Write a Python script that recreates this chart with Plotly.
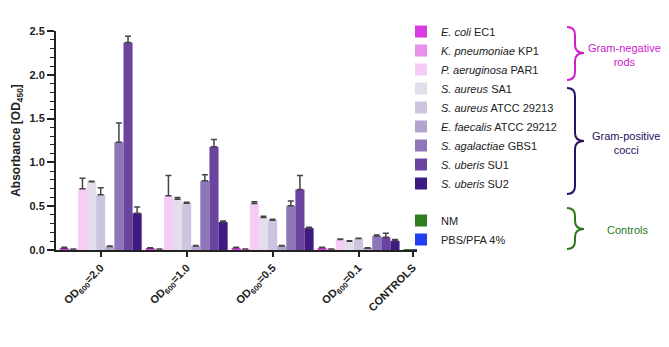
import plotly.graph_objects as go

# ---------------- data ----------------
groups = ["OD<sub>600</sub>=2.0", "OD<sub>600</sub>=1.0", "OD<sub>600</sub>=0.5", "OD<sub>600</sub>=0.1", "CONTROLS"]

strains = ["<i>E. coli</i> EC1", "<i>K. pneumoniae</i> KP1", "<i>P. aeruginosa</i> PAR1",
           "<i>S. aureus</i> SA1", "<i>S. aureus</i> ATCC 29213", "<i>E. faecalis</i> ATCC 29212",
           "<i>S. agalactiae</i> GBS1", "<i>S. uberis</i> SU1", "<i>S. uberis</i> SU2"]

# mean absorbance per strain for OD 2.0, 1.0, 0.5, 0.1
ecoli_mean = [0.02, 0.02, 0.025, 0.025]
kp_mean = [0.01, 0.01, 0.01, 0.01]
par_mean = [0.70, 0.62, 0.53, 0.12]
sa1_mean = [0.78, 0.58, 0.37, 0.10]
saatcc_mean = [0.63, 0.535, 0.34, 0.13]
ef_mean = [0.04, 0.045, 0.045, 0.02]
gbs_mean = [1.23, 0.79, 0.505, 0.16]
su1_mean = [2.37, 1.18, 0.69, 0.145]
su2_mean = [0.42, 0.32, 0.25, 0.105]

ecoli_sd = [0.01, 0.005, 0.005, 0.005]
kp_sd = [0.002, 0.002, 0.002, 0.002]
par_sd = [0.12, 0.23, 0.02, 0.005]
sa1_sd = [0.005, 0.02, 0.015, 0.005]
saatcc_sd = [0.08, 0.01, 0.01, 0.005]
ef_sd = [0.005, 0.005, 0.005, 0.005]
gbs_sd = [0.22, 0.07, 0.055, 0.01]
su1_sd = [0.07, 0.08, 0.16, 0.045]
su2_sd = [0.07, 0.01, 0.01, 0.015]

controls = ["NM", "PBS/PFA 4%"]
controls_mean = [0.004, 0.002]
controls_sd = [0.0, 0.0]

means = [ecoli_mean, kp_mean, par_mean, sa1_mean, saatcc_mean, ef_mean, gbs_mean, su1_mean, su2_mean]
sds = [ecoli_sd, kp_sd, par_sd, sa1_sd, saatcc_sd, ef_sd, gbs_sd, su1_sd, su2_sd]

# ---------------- style ----------------
colors = ["#d63ce0", "#e890ea", "#f6ccf6", "#e3ddec", "#cdc4de", "#b3a4cf",
          "#8f76b8", "#6a449e", "#3f1a80"]
control_colors = ["#2e7d1e", "#1f3ff0"]
group_pos = [0, 1, 2, 3, 3.63]
bw = 0.106
FONT = "Liberation Sans, Arial, sans-serif"

fig = go.Figure()
for i, (name, m, s) in enumerate(zip(strains, means, sds)):
    fig.add_trace(go.Bar(
        x=group_pos[:4], y=m, name=name, width=bw, offset=(i - 4.5) * bw,
        marker=dict(color=colors[i], line=dict(width=0)),
        error_y=dict(type="data", array=s, arrayminus=[0] * len(s), symmetric=False,
                     color="#444444", thickness=1.5, width=3),
        legendgroup="bact",
    ))
for j, (name, m, s) in enumerate(zip(controls, controls_mean, controls_sd)):
    fig.add_trace(go.Bar(
        x=[group_pos[4]], y=[m], name=name, width=bw, offset=(j - 1) * bw,
        marker=dict(color=control_colors[j], line=dict(width=0)),
        legendgroup="ctrl",
    ))

# target positions in page pixels; the page body adds an 8 px margin on every side
OFF = 8
W, H = 669 - 2 * OFF, 347 - 2 * OFF
L, R, T, B = 56 - OFF, 417 - OFF, 31 - OFF, 250 - OFF


def px(xp):
    return (xp - OFF - L) / (R - L)


def py(yp):
    return (B - (yp - OFF)) / (B - T)


def brace(xl, xm, xr, yt, ym, yb, r=8):
    pts = [
        f"M {px(xl)},{py(yt)}",
        f"Q {px(xm)},{py(yt)} {px(xm)},{py(yt + r)}",
        f"L {px(xm)},{py(ym - r)}",
        f"Q {px(xm)},{py(ym)} {px(xr)},{py(ym)}",
        f"Q {px(xm)},{py(ym)} {px(xm)},{py(ym + r)}",
        f"L {px(xm)},{py(yb - r)}",
        f"Q {px(xm)},{py(yb)} {px(xl)},{py(yb)}",
    ]
    return " ".join(pts)


shapes = [
    dict(type="path", xref="paper", yref="paper", path=brace(567, 575, 584, 27, 53, 80),
         line=dict(color="#cc22cc", width=2)),
    dict(type="path", xref="paper", yref="paper", path=brace(567, 575, 584, 88, 141, 194),
         line=dict(color="#2a1060", width=2)),
    dict(type="path", xref="paper", yref="paper", path=brace(567, 575, 584, 208, 229, 249),
         line=dict(color="#2a7a1a", width=2)),
]

annotations = [
    dict(x=px(624), y=py(55), xref="paper", yref="paper", text="Gram-negative<br>rods",
         xanchor="center", yanchor="middle",
         showarrow=False, font=dict(family=FONT, size=11, color="#cc22cc")),
    dict(x=px(626), y=py(143), xref="paper", yref="paper", text="Gram-positive<br>cocci",
         xanchor="center", yanchor="middle",
         showarrow=False, font=dict(family=FONT, size=11, color="#2a1060")),
    dict(x=px(627), y=py(230), xref="paper", yref="paper", text="Controls",
         xanchor="center", yanchor="middle",
         showarrow=False, font=dict(family=FONT, size=11, color="#2a7a1a")),
]

fig.update_layout(
    width=W, height=H,
    margin=dict(l=L, r=W - R, t=T, b=H - B, autoexpand=False),
    paper_bgcolor="white", plot_bgcolor="white",
    font=dict(family=FONT, size=11, color="#222222"),
    barmode="overlay",
    showlegend=True,
    legend=dict(x=px(401), y=py(17), xanchor="left", yanchor="top",
                font=dict(family=FONT, size=11, color="#222222"),
                tracegroupgap=18, traceorder="grouped", bgcolor="rgba(0,0,0,0)",
                maxheight=325),
    shapes=shapes,
    annotations=annotations,
    xaxis=dict(range=[-0.52, 3.68], tickvals=group_pos, ticktext=groups, tickangle=-45,
               showgrid=False, zeroline=False, showline=True, linecolor="#222222", linewidth=2,
               ticks="outside", ticklen=5, tickwidth=1.5, tickcolor="#222222",
               tickfont=dict(family=FONT, size=11, color="#222222", weight="bold")),
    yaxis=dict(range=[0, 2.5], tickvals=[0, 0.5, 1.0, 1.5, 2.0, 2.5],
               ticktext=["0.0", "0.5", "1.0", "1.5", "2.0", "2.5"],
               showgrid=False, zeroline=False, showline=True, linecolor="#222222", linewidth=2,
               ticks="outside", ticklen=7, tickwidth=1.5, tickcolor="#222222",
               minor=dict(dtick=0.1, ticks="outside", ticklen=4, tickwidth=1, tickcolor="#222222",
                          showgrid=False),
               tickfont=dict(family=FONT, size=11, color="#222222", weight="bold"),
               title=dict(text="Absorbance [OD<sub>450</sub>]", standoff=6,
                          font=dict(family=FONT, size=12, color="#222222", weight="bold"))),
)

fig.write_html("out.html")
